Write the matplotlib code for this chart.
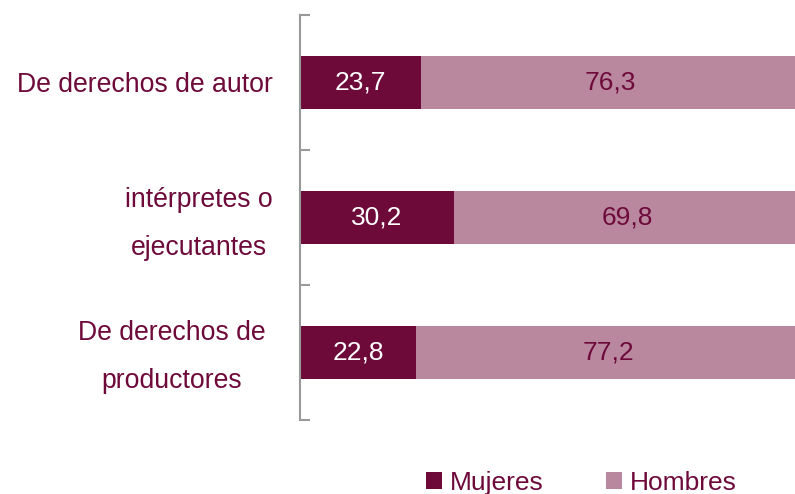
import numpy as np
import matplotlib
matplotlib.use('Agg')
import matplotlib.pyplot as plt
from matplotlib.transforms import blended_transform_factory

plt.rcParams['font.family'] = ['Liberation Sans', 'DejaVu Sans']

# datos
categorias = ['De derechos de autor', 'intérpretes o\nejecutantes', 'De derechos de\nproductores']
mujeres = [23.7, 30.2, 22.8]
hombres = [76.3, 69.8, 77.2]

C_MUJ = '#6E0A3A'
C_HOM = '#B9889F'
C_TXT = '#6E0A3A'

fig = plt.figure(figsize=(7.95, 4.94), dpi=100)
ax = fig.add_axes([0.3774, 0.1498, 0.642, 0.8198])

y = np.arange(len(categorias))
ax.barh(y, mujeres, height=0.39, color=C_MUJ, label='Mujeres')
ax.barh(y, hombres, left=mujeres, height=0.39, color=C_HOM, label='Hombres')

for i in range(len(y)):
    ax.text(mujeres[i] / 2, y[i], f'{mujeres[i]:.1f}'.replace('.', ','),
            ha='center', va='center', color='white', fontsize=19)
    ax.text(mujeres[i] + hombres[i] / 2 - 1, y[i], f'{hombres[i]:.1f}'.replace('.', ','),
            ha='center', va='center', color=C_TXT, fontsize=19)

ax.set_xlim(0, 100)
ax.set_ylim(2.5, -0.5)
ax.set_xticks([])
ax.set_yticks(y)
ax.set_yticklabels([])
ax.tick_params(axis='y', which='major', length=0)
ax.set_yticks([-0.5, 0.5, 1.5, 2.5], minor=True)
ax.tick_params(axis='y', which='minor', direction='in', length=7.5, width=1.5, color='#999999')

# etiquetas de categoria centradas (centros en px de figura)
centros_px = [145, 199, 171.5]
desfase = [0.02, 0.05, 0.03]
trans = blended_transform_factory(fig.transFigure, ax.transData)
for i, lab in enumerate(categorias):
    ax.text(centros_px[i] / 795, y[i] + desfase[i], lab, transform=trans, ha='center',
            va='center', multialignment='center', fontsize=19.2, color=C_TXT, linespacing=2.1)

for s in ['top', 'right', 'bottom']:
    ax.spines[s].set_visible(False)
ax.spines['left'].set_color('#999999')
ax.spines['left'].set_linewidth(1.5)

fig.legend(loc='center', bbox_to_anchor=(0.731, 0.023), ncol=2, frameon=False,
           fontsize=19, labelcolor=C_TXT, handlelength=0.6, handleheight=0.6,
           handletextpad=0.3, columnspacing=2.37)

fig.savefig('out.png', dpi=100)
